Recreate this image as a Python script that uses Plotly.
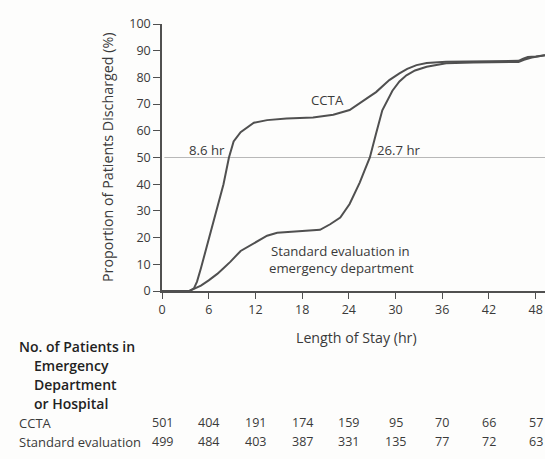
import plotly.graph_objects as go

# ---- data ----
ccta_hours = [0, 3.5, 4.1, 4.5, 5.0, 5.5, 6.0, 6.7, 7.3, 7.9, 8.6, 9.2, 10.1, 11.0, 11.8, 13.5, 16.0, 19.4,
              22.0, 24.1, 25.4, 26.5, 27.5, 28.5, 29.2, 30.5, 31.5, 32.7, 34.0, 36.5, 40.0, 44.0, 45.8,
              46.4, 47.0, 48.0, 49.2]
ccta_pct = [0, 0, 1.0, 3.5, 8.5, 14.0, 19.5, 27.0, 33.5, 40.0, 50.0, 56.0, 59.5, 61.5, 63.0, 64.0, 64.6, 65.0,
            66.0, 67.8, 70.5, 72.5, 74.5, 77.0, 79.0, 81.5, 83.2, 84.6, 85.4, 85.9, 86.0, 86.0, 86.2,
            87.0, 87.6, 87.8, 88.3]

std_hours = [0, 3.5, 4.1, 5.0, 6.0, 7.1, 8.0, 8.8, 10.1, 11.7, 12.6, 13.5, 14.8, 17.0, 20.3, 21.6, 22.9,
             24.1, 25.4, 26.0, 26.7, 27.5, 28.3, 29.6, 30.5, 31.4, 32.5, 34.0, 36.5, 40.0, 44.0, 45.8,
             46.5, 47.5, 49.2]
std_pct = [0, 0, 0.8, 2.0, 4.0, 6.4, 8.8, 11.0, 15.0, 17.6, 19.3, 20.7, 21.8, 22.3, 22.9, 25.0, 27.5,
           32.6, 40.6, 45.0, 50.0, 59.0, 67.7, 75.0, 78.5, 80.8, 82.6, 84.0, 85.3, 85.6, 85.7, 85.8,
           86.6, 87.4, 88.3]

x_ticks = [0, 6, 12, 18, 24, 30, 36, 42, 48]
y_ticks = [0, 10, 20, 30, 40, 50, 60, 70, 80, 90, 100]
ccta_at_risk = [501, 404, 191, 174, 159, 95, 70, 66, 57]
std_at_risk = [499, 484, 403, 387, 331, 135, 77, 72, 63]
median_ccta = 8.6
median_std = 26.7

W, H = 545, 459
L, R, T, B = 162, 0, 24, 168
FONT = "Open Sans"
TXT = "#3a3a3a"
LINE = "#505050"

plot_w = W - L - R
plot_h = H - T - B


def px_to_paper_x(px):
    return (px - L) / plot_w


def px_to_paper_y(py):
    return (H - B - py) / plot_h


fig = go.Figure()
fig.add_trace(go.Scatter(x=ccta_hours, y=ccta_pct, mode="lines",
                         line=dict(color=LINE, width=2), hoverinfo="skip", showlegend=False))
fig.add_trace(go.Scatter(x=std_hours, y=std_pct, mode="lines",
                         line=dict(color=LINE, width=2), hoverinfo="skip", showlegend=False))

# 50% reference line
fig.add_shape(type="line", xref="x", yref="y", x0=0.3, x1=49.2, y0=50, y1=50,
              line=dict(color="#b8b8b8", width=1), layer="below")

ann = []
LS = 13.2
# curve labels
ann.append(dict(x=5.72, y=52.8, xref="x", yref="y", text=f"{median_ccta} hr", showarrow=False,
                xanchor="center", yanchor="middle", font=dict(size=LS, color=TXT)))
ann.append(dict(x=30.4, y=52.8, xref="x", yref="y", text=f"{median_std} hr", showarrow=False,
                xanchor="center", yanchor="middle", font=dict(size=LS, color=TXT)))
ann.append(dict(x=21.2, y=71.5, xref="x", yref="y", text="CCTA", showarrow=False,
                xanchor="center", yanchor="middle", font=dict(size=LS, color=TXT)))
ann.append(dict(x=13.75, y=15.1, xref="x", yref="y", text="Standard evaluation in", showarrow=False,
                xanchor="left", yanchor="middle", font=dict(size=LS, color=TXT)))
ann.append(dict(x=13.55, y=8.6, xref="x", yref="y", text="emergency department", showarrow=False,
                xanchor="left", yanchor="middle", font=dict(size=LS, color=TXT)))

# axis titles
ann.append(dict(x=px_to_paper_x(107), y=px_to_paper_y(157), xref="paper", yref="paper",
                text="Proportion of Patients Discharged (%)", textangle=-90, showarrow=False,
                xanchor="center", yanchor="middle", font=dict(size=14.3, color=TXT)))
ann.append(dict(x=px_to_paper_x(356), y=px_to_paper_y(337), xref="paper", yref="paper",
                text="Length of Stay (hr)", showarrow=False,
                xanchor="center", yanchor="middle", font=dict(size=14.2, color=TXT)))

# at-risk table header
header = [("No. of Patients in", 17, 346), ("Emergency", 32, 365), ("Department", 32, 384),
          ("or Hospital", 32, 403)]
for txt, px, py in header:
    ann.append(dict(x=px_to_paper_x(px), y=px_to_paper_y(py), xref="paper", yref="paper",
                    text=txt, showarrow=False, xanchor="left", yanchor="middle",
                    font=dict(size=14, color="#222222", weight=600)))

rows = [("CCTA", ccta_at_risk, 422.5), ("Standard evaluation", std_at_risk, 441.6)]
for label, vals, py in rows:
    ann.append(dict(x=px_to_paper_x(17), y=px_to_paper_y(py), xref="paper", yref="paper",
                    text=label, showarrow=False, xanchor="left", yanchor="middle",
                    font=dict(size=13, color=TXT)))
    for xv, v in zip(x_ticks, vals):
        ann.append(dict(x=xv, y=px_to_paper_y(py), xref="x", yref="paper", text=str(v),
                        showarrow=False, xanchor="center", yanchor="middle",
                        font=dict(size=12.5, color=TXT)))

fig.update_layout(
    width=W, height=H,
    margin=dict(l=L, r=R, t=T, b=B),
    paper_bgcolor="#fdfdfc", plot_bgcolor="#fdfdfc",
    font=dict(family=FONT, size=12, color=TXT),
    annotations=ann,
    showlegend=False,
)
fig.update_xaxes(range=[0, 49.2], tickvals=x_ticks, ticktext=[str(t) for t in x_ticks],
                 showgrid=False, zeroline=False, showline=True, linecolor=LINE, linewidth=1.5,
                 ticks="outside", ticklen=6, tickcolor=LINE, tickwidth=1.3,
                 tickfont=dict(size=12.5, color=TXT))
fig.update_yaxes(range=[0, 100], tickvals=y_ticks, ticktext=[str(t) for t in y_ticks],
                 showgrid=False, zeroline=False, showline=True, linecolor=LINE, linewidth=1.5,
                 ticks="outside", ticklen=7, tickcolor=LINE, tickwidth=1.3,
                 tickfont=dict(size=12.5, color=TXT))

# remove the default page margin so the 545x459 figure fills the window exactly
fig.write_html("out.html", config={"displayModeBar": False},
               post_script="document.body.style.margin='0';document.body.style.overflow='hidden';")
